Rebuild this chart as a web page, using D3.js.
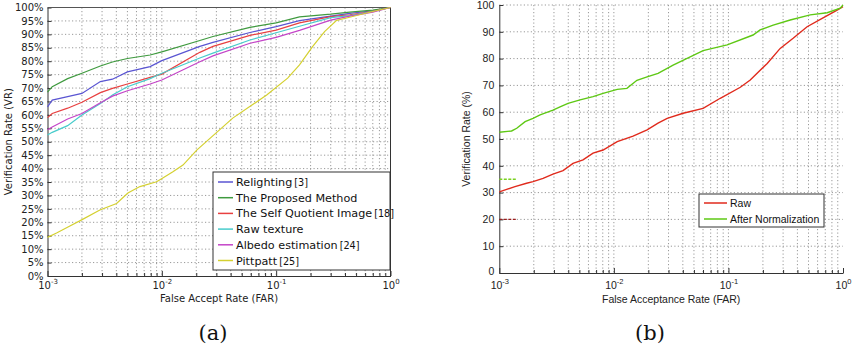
<!DOCTYPE html>
<html>
<head>
<meta charset="utf-8">
<script src="https://cdn.jsdelivr.net/npm/d3@7"></script>
<style>
  body { margin: 0; background: #fff; }
  svg { display: block; }
</style>
</head>
<body>
<svg id="chart" width="852" height="349"></svg>
<script>
// ---- data (a) ----
const farA = [0.001, 0.0011, 0.0015, 0.002, 0.0029, 0.0037, 0.005, 0.0079, 0.01, 0.0215, 0.028, 0.059, 0.1, 0.16, 0.3, 0.44, 0.7, 1];
const relighting   = [63, 65.5, 66.8, 68, 72.4, 73.3, 76, 78, 80.2, 85.5, 87, 90.7, 92.9, 95.1, 96.8, 97.8, 98.8, 100];
const proposed     = [68.5, 70.5, 73.5, 75.5, 78.2, 79.7, 81, 82.3, 83.5, 87.7, 89.2, 92.6, 94.3, 96.5, 97.5, 98.3, 99, 100];
const selfQuotient = [59, 60.5, 62.5, 64.7, 68.3, 69.9, 71.5, 74, 75.2, 83.3, 85.5, 89.6, 91.6, 94.3, 96.6, 97.3, 98.6, 100];
const rawTexture   = [52.5, 53.5, 56, 60, 64.2, 67.4, 70.5, 73.5, 75.5, 81.2, 83, 87.9, 90.6, 93, 96.2, 97, 98.5, 100];
const albedo       = [54.5, 55.5, 58.5, 60.5, 64.5, 67, 69, 71.5, 73, 79.8, 82, 86.7, 88.9, 91.5, 95.3, 96.8, 98.3, 100];
const farPitt = [0.001, 0.0012, 0.00157, 0.00199, 0.00287, 0.00402, 0.00505, 0.00643, 0.009, 0.0102, 0.0125, 0.0153, 0.0202, 0.0417, 0.0826, 0.126, 0.16, 0.208, 0.265, 0.338, 0.413, 0.7, 1];
const pittpatt = [14.4, 16, 18.6, 20.9, 24.6, 27, 30.9, 33.3, 35.1, 36.5, 38.8, 41.3, 46.9, 58.8, 67.4, 73.7, 78.6, 85.4, 91, 95.2, 96.1, 98.5, 100];

const seriesA = [
  { name: 'Relighting', cite: '[3]', color: '#5a55d2', x: farA, y: relighting },
  { name: 'The Proposed Method', cite: '', color: '#3f9a3f', x: farA, y: proposed },
  { name: 'The Self Quotient Image', cite: '[18]', color: '#e84040', x: farA, y: selfQuotient },
  { name: 'Raw texture', cite: '', color: '#48cccc', x: farA, y: rawTexture },
  { name: 'Albedo estimation', cite: '[24]', color: '#c444c8', x: farA, y: albedo },
  { name: 'Pittpatt', cite: '[25]', color: '#d4d030', x: farPitt, y: pittpatt }
];
const yTicksA = d3.range(0, 101, 5);

// ---- data (b) ----
const farRaw = [0.001, 0.00116, 0.00137, 0.00173, 0.00197, 0.00241, 0.00294, 0.0036, 0.0044, 0.00538, 0.00658, 0.00805, 0.0107, 0.0147, 0.0195, 0.0243, 0.0292, 0.0402, 0.0601, 0.0848, 0.127, 0.155, 0.218, 0.283, 0.367, 0.486, 0.658, 0.889, 1];
const rawB   = [30.3, 31.2, 32.2, 33.5, 34.1, 35.3, 36.9, 38.2, 40.9, 42.2, 44.7, 45.9, 49, 51.1, 53.4, 55.9, 57.7, 59.6, 61.4, 65.2, 69.3, 72, 78.2, 83.8, 87.6, 91.9, 95, 98.1, 99.4];
const farNorm = [0.001, 0.00128, 0.00142, 0.00168, 0.00197, 0.00227, 0.00294, 0.00339, 0.00398, 0.00507, 0.00658, 0.00805, 0.0107, 0.013, 0.0159, 0.0195, 0.0243, 0.0329, 0.0601, 0.0975, 0.164, 0.189, 0.246, 0.346, 0.517, 0.728, 0.947, 1];
const normB   = [52.5, 53, 54, 56.5, 57.7, 59, 60.8, 62, 63.3, 64.6, 65.8, 67, 68.5, 68.9, 71.9, 73.2, 74.5, 77.6, 83, 85.1, 88.8, 90.7, 92.5, 94.4, 96.3, 97.1, 98.8, 100];
const stubFar = [0.001, 0.0014];
const stubRaw = [20, 20];
const stubNorm = [35, 35];
const yTicksB = d3.range(0, 101, 10);

const svg = d3.select('#chart');

function supLabel(sel, v, size) {
  const e = Math.round(Math.log10(v));
  sel.text(null);
  sel.append('tspan').text('10');
  sel.append('tspan').attr('dy', -5).attr('font-size', size).text(e === 0 ? '0' : String(e));
}

function drawPanel(p) {
  const x = d3.scaleLog().domain([1e-3, 1]).range([p.left, p.right]);
  const y = d3.scaleLinear().domain([0, 100]).range([p.bottom, p.top]);
  const g = svg.append('g').attr('font-family', p.font);
  const xt = x.ticks();
  const majors = [1e-3, 1e-2, 1e-1, 1];
  const isMajor = v => majors.some(m => Math.abs(m - v) < m * 1e-6);

  // grid
  g.append('g').selectAll('line').data(xt.filter(v => v > 1e-3 && v < 1)).enter().append('line')
    .attr('x1', d => x(d)).attr('x2', d => x(d)).attr('y1', p.top).attr('y2', p.bottom)
    .attr('stroke', '#999').attr('stroke-width', 1).attr('stroke-dasharray', '1.2,2.3');
  g.append('g').selectAll('line').data(p.yTicks.filter(v => v > 0 && (p.box ? v < 100 : true))).enter().append('line')
    .attr('x1', p.left).attr('x2', p.right).attr('y1', d => y(d)).attr('y2', d => y(d))
    .attr('stroke', '#999').attr('stroke-width', 1).attr('stroke-dasharray', '1.2,2.3');

  // axes
  const xa = d3.axisBottom(x).tickValues(xt).tickSizeInner(0).tickSizeOuter(0).tickPadding(p.xPad)
    .tickFormat(d => isMajor(d) ? 'x' : '');
  const gx = g.append('g').attr('transform', `translate(0,${p.bottom})`).call(xa);
  gx.selectAll('.tick line').attr('y2', d => isMajor(d) ? -5 : -3).attr('stroke', '#333');
  gx.selectAll('.tick text').attr('font-size', p.fs).attr('fill', '#222').attr('font-family', p.font)
    .each(function(d) { if (isMajor(d)) supLabel(d3.select(this), d, p.fs - 3); });
  gx.select('.domain').attr('stroke', '#333');

  const ya = d3.axisLeft(y).tickValues(p.yTicks).tickSizeInner(0).tickSizeOuter(0).tickPadding(p.yPad)
    .tickFormat(p.yFmt);
  const gy = g.append('g').attr('transform', `translate(${p.left},0)`).call(ya);
  gy.selectAll('.tick line').attr('x2', 4).attr('stroke', '#333');
  gy.selectAll('.tick text').attr('font-size', p.fs).attr('fill', '#222').attr('font-family', p.font)
    .attr('dy', d => d === 0 ? p.zeroDy : '0.32em');
  gy.select('.domain').attr('stroke', '#333');

  if (p.box) {
    g.append('line').attr('x1', p.left).attr('x2', p.right).attr('y1', p.top).attr('y2', p.top).attr('stroke', '#555');
    g.append('line').attr('x1', p.right).attr('x2', p.right).attr('y1', p.top).attr('y2', p.bottom).attr('stroke', '#333');
  }

  // lines
  const line = d3.line().x(d => x(d[0])).y(d => y(d[1]));
  p.series.forEach(s => {
    g.append('path').datum(d3.zip(s.x, s.y)).attr('d', line).attr('fill', 'none')
      .attr('stroke', s.color).attr('stroke-width', s.w || 1.2)
      .attr('stroke-dasharray', s.dash || null);
  });

  // labels
  g.append('text').attr('transform', `translate(${p.yLabelX},${(p.top + p.bottom) / 2}) rotate(-90)`)
    .attr('text-anchor', 'middle').attr('font-size', p.fs).attr('fill', '#222').text(p.yLabel);
  g.append('text').attr('x', (p.left + p.right) / 2).attr('y', p.xLabelY)
    .attr('text-anchor', 'middle').attr('font-size', p.fs).attr('fill', '#222').text(p.xLabel);
  svg.append('text').attr('x', p.capX).attr('y', 340).attr('text-anchor', 'middle')
    .attr('font-family', 'DejaVu Serif, serif').attr('font-size', 21).attr('fill', '#111').text(p.caption);

  // legend
  const L = p.legend;
  const lg = g.append('g');
  lg.append('rect').attr('x', L.x).attr('y', L.y).attr('width', L.w).attr('height', L.h)
    .attr('fill', '#fff').attr('stroke', '#333').attr('stroke-width', 1);
  L.items.forEach((s, i) => {
    const yy = L.y + L.first + i * L.step;
    lg.append('line').attr('x1', L.x + 5).attr('x2', L.x + L.lineW).attr('y1', yy).attr('y2', yy)
      .attr('stroke', s.color).attr('stroke-width', 1.5);
    const t = lg.append('text').attr('x', L.x + L.lineW + 3).attr('y', yy + L.fs * 0.36)
      .attr('font-size', L.fs).attr('fill', '#111').text(s.name);
    if (s.cite) t.append('tspan').attr('dx', 2).attr('font-size', L.fs - 1.5).text(s.cite);
  });
}

drawPanel({
  left: 47.5, right: 390.5, top: 7.5, bottom: 276,
  font: 'DejaVu Sans, sans-serif', fs: 10, box: true, yPad: 4, xPad: 6, zeroDy: '0.32em',
  yTicks: yTicksA, yFmt: d => d + '%',
  series: seriesA,
  yLabel: 'Verification Rate (VR)', yLabelX: 12,
  xLabel: 'False Accept Rate (FAR)', xLabelY: 302,
  caption: '(a)', capX: 213,
  legend: { x: 213, y: 172, w: 177, h: 98, first: 10, step: 15.7, lineW: 20, fs: 11.2, items: seriesA }
});

const seriesB = [
  { name: 'Raw', color: '#e02a1c', x: farRaw, y: rawB, w: 1.4 },
  { name: 'After Normalization', color: '#5ec814', x: farNorm, y: normB, w: 1.4 },
  { color: '#9a1f1f', x: stubFar, y: stubRaw, w: 1.4, dash: '3,1.5' },
  { color: '#7ad020', x: stubFar, y: stubNorm, w: 1.4, dash: '3,1.5' }
];

drawPanel({
  left: 499.3, right: 843, top: 5, bottom: 273,
  font: 'Liberation Sans, Arial, sans-serif', fs: 10.5, box: false, yPad: 5, xPad: 9, zeroDy: '0.1em',
  yTicks: yTicksB, yFmt: d => d,
  series: seriesB,
  yLabel: 'Verification Rate (%)', yLabelX: 470,
  xLabel: 'False Acceptance Rate (FAR)', xLabelY: 303,
  caption: '(b)', capX: 650,
  legend: { x: 699, y: 194, w: 125, h: 33, first: 9, step: 16, lineW: 28, fs: 10.5, items: seriesB.slice(0, 2) }
});
</script>
</body>
</html>
